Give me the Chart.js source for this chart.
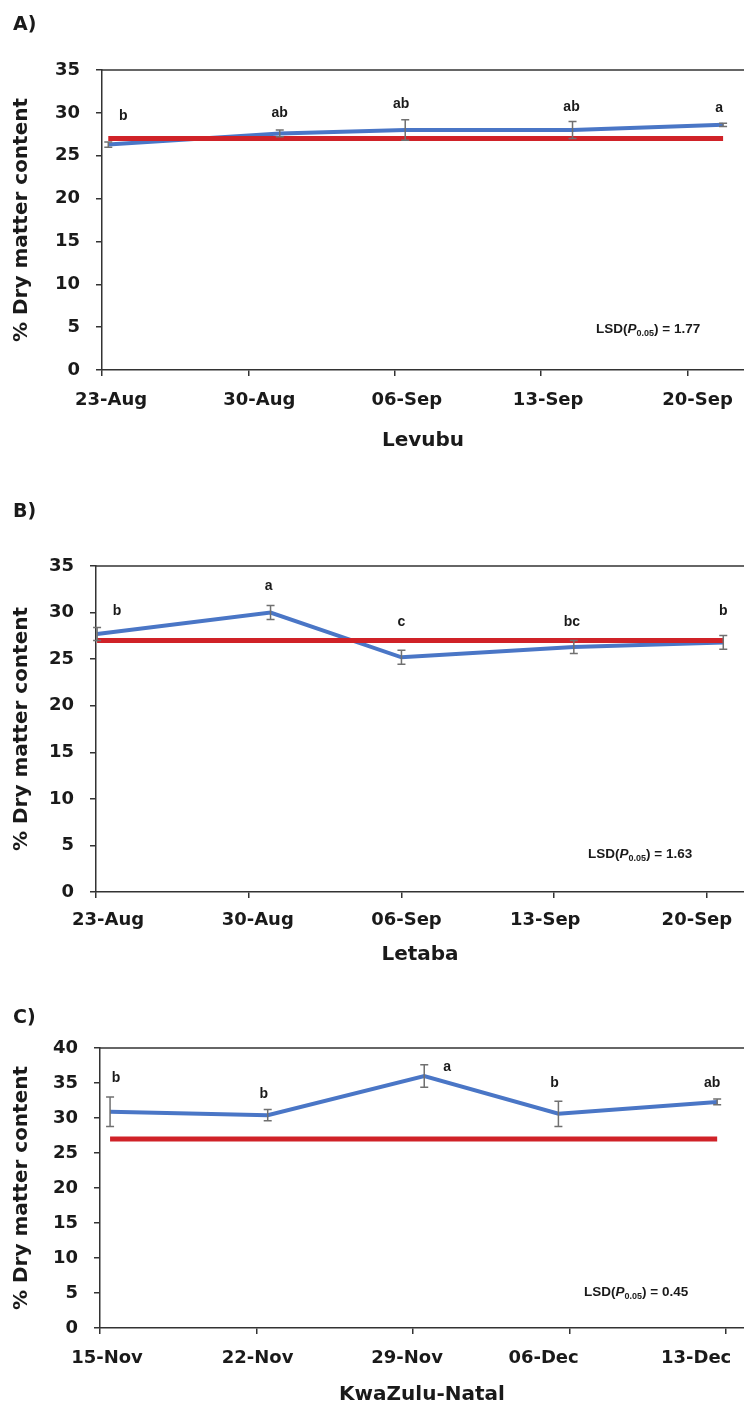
<!DOCTYPE html>
<html><head><meta charset="utf-8">
<script src="https://cdn.jsdelivr.net/npm/chart.js@4.4.0/dist/chart.umd.min.js"></script>
<style>
html,body{margin:0;padding:0;background:#fff;overflow:hidden;width:744px;height:1403px;}
.panel{position:absolute;left:0;width:744px;}
canvas{display:block;}
</style></head><body>
<div class="panel" style="top:0px;height:470px"><canvas id="cA" width="744" height="470"></canvas></div>
<div class="panel" style="top:480px;height:495px"><canvas id="cB" width="744" height="495"></canvas></div>
<div class="panel" style="top:980px;height:440px"><canvas id="cC" width="744" height="440"></canvas></div>
<script>
// ---- data ----
const tickDays = [0, 7, 14, 21, 28];
const tickLabelsAug = ['23-Aug', '30-Aug', '06-Sep', '13-Sep', '20-Sep'];
const tickLabelsNov = ['15-Nov', '22-Nov', '29-Nov', '06-Dec', '13-Dec'];

const levubuDays = [0.3, 8.5, 14.5, 22.5, 29.7];
const levubuDM = [26.3, 27.6, 28.0, 28.0, 28.6];
const levubuErr = [0.3, 0.4, 1.2, 1.0, 0.2];
const levubuLetters = ['b', 'ab', 'ab', 'ab', 'a'];
const levubuRef = [27, 27, 27, 27, 27];
const levubuLSD = '1.77';

const letabaDays = [0.05, 8.0, 14.0, 21.9, 28.75];
const letabaDM = [27.7, 30.0, 25.2, 26.3, 26.8];
const letabaErr = [0.7, 0.75, 0.75, 0.7, 0.75];
const letabaLetters = ['b', 'a', 'c', 'bc', 'b'];
const letabaRef = [27, 27, 27, 27, 27];
const letabaLSD = '1.63';

const kznDays = [0.45, 7.5, 14.5, 20.5, 27.6];
const kznDM = [30.9, 30.4, 36.0, 30.6, 32.3];
const kznErr = [2.1, 0.8, 1.6, 1.8, 0.4];
const kznLetters = ['b', 'b', 'a', 'b', 'ab'];
const kznRef = [27, 27, 27, 27, 27];
const kznLSD = '0.45';

// ---- layout / style ----
const panels = [
  {id:'cA', tag:'A)', tagY:25, title:'Levubu', days:levubuDays, dm:levubuDM, err:levubuErr, letters:levubuLetters, ref:levubuRef, lsd:levubuLSD,
   tickLabels:tickLabelsAug, yMax:35, xMax:30.7, areaLeft:102, areaTop:70, xScaleH:100, titlePad:17, lsdPos:[596,328],
   labelDY:30, labelShift:[9, 11, 12, 7, 10],
   letterOffsets:[[15,-28],[0,-20],[-4,-26],[-1,-23],[-4,-17]]},
  {id:'cB', tag:'B)', tagY:32, title:'Letaba', days:letabaDays, dm:letabaDM, err:letabaErr, letters:letabaLetters, ref:letabaRef, lsd:letabaLSD,
   tickLabels:tickLabelsAug, yMax:35, xMax:29.7, areaLeft:96, areaTop:86, xScaleH:83, titlePad:8, lsdPos:[588,373],
   labelDY:28, labelShift:[12, 9, 5, -9, -10],
   letterOffsets:[[20,-23],[-2,-26],[0,-35],[-2,-25],[0,-31]]},
  {id:'cC', tag:'C)', tagY:38, title:'KwaZulu-Natal', days:kznDays, dm:kznDM, err:kznErr, letters:kznLetters, ref:kznRef, lsd:kznLSD,
   tickLabels:tickLabelsNov, yMax:40, xMax:28.8, areaLeft:100, areaTop:68, xScaleH:92, titlePad:13, lsdPos:[584,311],
   labelDY:30, labelShift:[7, 1, -6, -26, -30],
   letterOffsets:[[6,-34],[-4,-21],[23,-9],[-4,-31],[-5,-19]]}
];

const TXT = '#1a1a1a';
const AXIS = '#333333';
const SANS = '"DejaVu Sans", Verdana, sans-serif';
const SMALL = '"Liberation Sans", Arial, sans-serif';

const overlay = {
  id: 'overlay',
  afterDatasetsDraw(chart, args, opts) {
    const p = opts.panel, ctx = chart.ctx, xs = chart.scales.x, ys = chart.scales.y, ca = chart.chartArea;
    ctx.save();
    // top frame line
    ctx.strokeStyle = AXIS; ctx.lineWidth = 1.5;
    ctx.beginPath(); ctx.moveTo(ca.left, ca.top); ctx.lineTo(ca.right, ca.top); ctx.stroke();
    // error bars
    ctx.strokeStyle = '#707070'; ctx.lineWidth = 1.5;
    p.days.forEach((d, i) => {
      const px = xs.getPixelForValue(d);
      const yt = ys.getPixelForValue(p.dm[i] + p.err[i]);
      const yb = ys.getPixelForValue(p.dm[i] - p.err[i]);
      ctx.beginPath();
      ctx.moveTo(px, yt); ctx.lineTo(px, yb);
      ctx.moveTo(px - 4, yt); ctx.lineTo(px + 4, yt);
      ctx.moveTo(px - 4, yb); ctx.lineTo(px + 4, yb);
      ctx.stroke();
    });
    // x tick labels (placed as in the source figure)
    ctx.fillStyle = TXT; ctx.font = 'bold 18px ' + SANS; ctx.textAlign = 'center'; ctx.textBaseline = 'middle';
    xs.ticks.forEach((t, i) => {
      const idx = tickDays.indexOf(t.value);
      if (idx < 0) return;
      ctx.fillText(p.tickLabels[idx], xs.getPixelForValue(t.value) + p.labelShift[idx], ca.bottom + p.labelDY);
    });
    // significance letters
    ctx.font = 'bold 14px ' + SMALL;
    p.letters.forEach((l, i) => {
      const px = xs.getPixelForValue(p.days[i]) + p.letterOffsets[i][0];
      const py = ys.getPixelForValue(p.dm[i]) + p.letterOffsets[i][1];
      ctx.fillText(l, px, py);
    });
    // LSD text
    let lx = p.lsdPos[0]; const ly = p.lsdPos[1] + 5;
    ctx.textAlign = 'left'; ctx.textBaseline = 'alphabetic';
    const part = (t, font, dy) => { ctx.font = font; ctx.fillText(t, lx, ly + dy); lx += ctx.measureText(t).width; };
    part('LSD(', 'bold 13.5px ' + SMALL, 0);
    part('P', 'italic bold 13.5px ' + SMALL, 0);
    part('0.05', 'bold 9px ' + SMALL, 3);
    part(') = ' + p.lsd, 'bold 13.5px ' + SMALL, 0);
    // panel tag
    ctx.font = 'bold 19px ' + SANS; ctx.textBaseline = 'middle';
    ctx.fillText(p.tag, 13, p.tagY);
    ctx.restore();
  }
};

function makeChart(p) {
  new Chart(document.getElementById(p.id), {
    type: 'line',
    data: {
      datasets: [
        {label: 'ref', data: p.days.map((d, i) => ({x: d, y: p.ref[i]})), borderColor: '#d02228', borderWidth: 5,
         pointRadius: 0, tension: 0, borderCapStyle: 'butt'},
        {label: 'dm', data: p.days.map((d, i) => ({x: d, y: p.dm[i]})), borderColor: '#4a76c6', borderWidth: 4,
         pointRadius: 0, tension: 0, borderCapStyle: 'butt'}
      ]
    },
    options: {
      responsive: false, animation: false, events: [],
      layout: {padding: {left: 0, right: 0, top: p.areaTop, bottom: 0}},
      plugins: {legend: {display: false}, tooltip: {enabled: false}, overlay: {panel: p}},
      scales: {
        x: {
          type: 'linear', min: 0, max: p.xMax,
          afterBuildTicks: (s) => { s.ticks = tickDays.map(v => ({value: v})); },
          afterFit: (s) => { s.height = p.xScaleH; s.paddingLeft = 0; s.paddingRight = 0; },
          ticks: {display: false, callback: (v) => p.tickLabels[tickDays.indexOf(v)], autoSkip: false, maxRotation: 0},
          grid: {drawOnChartArea: false, drawTicks: true, tickLength: 6, color: AXIS, lineWidth: 1.5},
          border: {display: true, color: AXIS, width: 1.5},
          title: {display: true, text: p.title, font: {family: SANS, weight: 'bold', size: 20}, color: TXT,
                  padding: {top: 0, bottom: p.titlePad}}
        },
        y: {
          min: 0, max: p.yMax,
          afterFit: (s) => { s.width = p.areaLeft; s.paddingTop = 0; s.paddingBottom = 0; },
          ticks: {stepSize: 5, font: {family: SANS, weight: 'bold', size: 18}, color: TXT, padding: 16},
          grid: {drawOnChartArea: false, drawTicks: true, tickLength: 6, color: AXIS, lineWidth: 1.5},
          border: {display: true, color: AXIS, width: 1.5},
          title: {display: true, text: '% Dry matter content', font: {family: SANS, weight: 'bold', size: 20}, color: TXT,
                  padding: {top: 10, bottom: 0}}
        }
      }
    },
    plugins: [overlay]
  });
}
panels.forEach(makeChart);
</script>
</body></html>
